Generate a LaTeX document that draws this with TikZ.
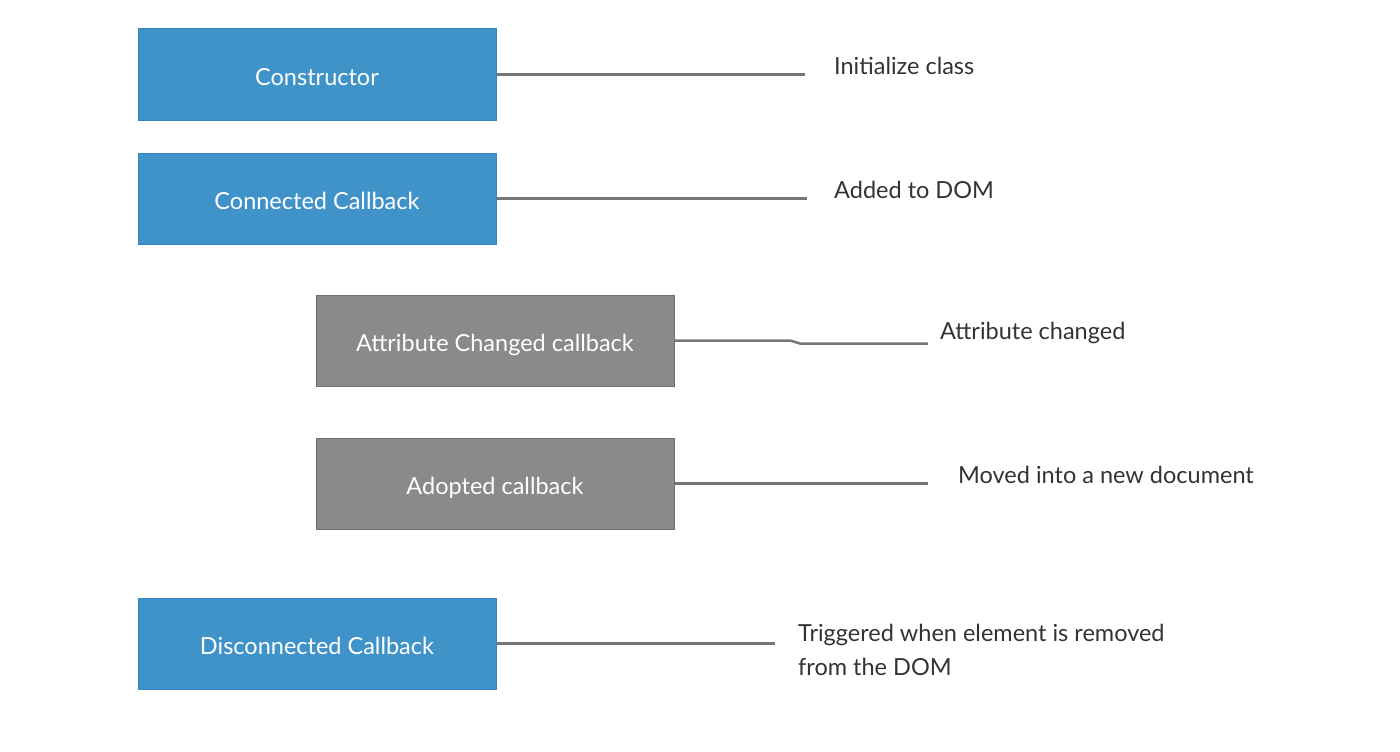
\documentclass[tikz,border=0pt]{standalone}
\usepackage{fontspec}
\setmainfont{Lato}
\usetikzlibrary{positioning}

\definecolor{hookblue}{HTML}{4093C9}
\definecolor{hookblueline}{HTML}{3485BC}
\definecolor{hookgray}{HTML}{8A8A8A}
\definecolor{hookgrayline}{HTML}{6E6E6E}
\definecolor{wire}{HTML}{777777}
\definecolor{labeltext}{HTML}{333333}

\begin{document}
\begin{tikzpicture}[x=1pt,y=-1pt]
    \tikzstyle{hook}=[rectangle, minimum width=358pt, minimum height=91pt, inner sep=0pt, text height=21pt, text depth=0pt, text=white, font=\fontsize{23.5}{28}\selectfont]
    \tikzstyle{mainhook}=[hook, fill=hookblue, draw=hookblueline, line width=1pt]
    \tikzstyle{sidehook}=[hook, fill=hookgray, draw=hookgrayline, line width=1pt]
    \tikzstyle{note}=[anchor=west, inner sep=0pt, text=labeltext, align=left, font=\fontsize{23.5}{34}\selectfont]
    \tikzstyle{link}=[draw=wire, line width=2.5pt]

    \useasboundingbox (0,0) rectangle (1400,752);

    \node[mainhook] (ctor) at (317,74.5) {Constructor};
    \node[mainhook] (conn) at (317,198.5) {Connected Callback};
    \node[sidehook] (attr) at (495,340.5) {Attribute Changed callback};
    \node[sidehook] (adopt) at (495,483.5) {Adopted callback};
    \node[mainhook] (disc) at (317,643.5) {Disconnected Callback};

    \node[note] (ctornote) at (834,66) {Initialize class};
    \node[note] (connnote) at (834,190) {Added to DOM};
    \node[note] (attrnote) at (940,333) {Attribute changed};
    \node[note] (adoptnote) at (958,475) {Moved into a new document};
    \node[note] (discnote) at (798,650) {Triggered when element is removed\\from the DOM};

    \coordinate (ctorend) at (805,74.5);
    \coordinate (connend) at (807,198.5);
    \coordinate (attrbend) at (790,340.5);
    \coordinate (attrend) at (928,343.5);
    \coordinate (adoptend) at (928,483.5);
    \coordinate (discend) at (775,643.5);

    \draw[link] (ctor.east) -- (ctorend);
    \draw[link] (conn.east) -- (connend);
    \draw[link] (attr.east) -- (attrbend) -- ++(10,3) -- (attrend);
    \draw[link] (adopt.east) -- (adoptend);
    \draw[link] (disc.east) -- (discend);
\end{tikzpicture}
\end{document}
